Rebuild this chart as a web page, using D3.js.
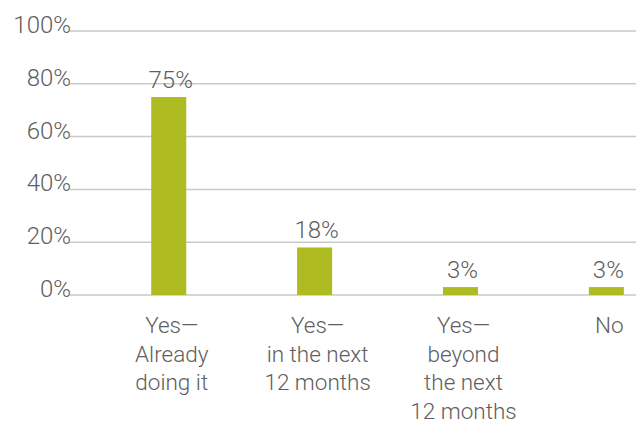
<!DOCTYPE html>
<html>
<head>
<meta charset="utf-8">
<script src="https://cdn.jsdelivr.net/npm/d3@7"></script>
<style>
  html, body { margin: 0; padding: 0; background: #fff; }
  svg { display: block; }
  text { font-family: "Helvetica Neue", Roboto, "Liberation Sans", Arial, sans-serif; font-weight: 300; fill: #5e5e5e; }
</style>
</head>
<body>
<svg id="chart" width="636" height="424"></svg>
<script>
// Survey responses: share of respondents per answer
const categories = [
  ["Yes\u2014", "Already", "doing it"],
  ["Yes\u2014", "in the next", "12 months"],
  ["Yes\u2014", "beyond", "the next", "12 months"],
  ["No"]
];
const values = [75, 18, 3, 3];
const yTicks = [0, 20, 40, 60, 80, 100];
const valueLabels = ["75%", "18%", "3%", "3%"];

const svg = d3.select("#chart");
const plot = { left: 70, right: 636, top: 31, bottom: 295 };

const x = d3.scaleBand()
  .domain(d3.range(values.length))
  .range([plot.left, plot.right])
  .paddingInner(0.76)
  .paddingOuter(0.32)
  .align(0.87);

const y = d3.scaleLinear().domain([0, 100]).range([plot.bottom, plot.top]);

// gridlines and percentage labels
const grid = svg.append("g");
grid.selectAll("line")
  .data(yTicks)
  .join("line")
  .attr("x1", plot.left)
  .attr("x2", plot.right)
  .attr("y1", d => y(d))
  .attr("y2", d => y(d))
  .attr("stroke", "#c9c9c9")
  .attr("stroke-width", 1.5);

grid.selectAll("text")
  .data(yTicks)
  .join("text")
  .attr("x", plot.left + 1)
  .attr("y", d => y(d) + 2)
  .attr("text-anchor", "end")
  .attr("font-size", 24)
  .text(d => d + "%");

// bars
svg.append("g").selectAll("rect")
  .data(values)
  .join("rect")
  .attr("x", (d, i) => x(i))
  .attr("width", x.bandwidth())
  .attr("y", d => y(d))
  .attr("height", d => y(0) - y(d))
  .attr("fill", "#aebb21");

// value labels above bars
svg.append("g").selectAll("text")
  .data(values)
  .join("text")
  .attr("x", (d, i) => x(i) + x.bandwidth() / 2 + 2)
  .attr("y", d => y(d) - 9)
  .attr("text-anchor", "middle")
  .attr("font-size", 24)
  .text((d, i) => valueLabels[i]);

// category labels, one line per tspan
const cat = svg.append("g").selectAll("text")
  .data(categories)
  .join("text")
  .attr("text-anchor", "middle")
  .attr("font-size", 22.5)
  .attr("transform", (d, i) => `translate(${x(i) + x.bandwidth() / 2 + 3},333)`);

cat.selectAll("tspan")
  .data(d => d)
  .join("tspan")
  .attr("x", 0)
  .attr("y", (d, j) => j * 28.6)
  .text(d => d);
</script>
</body>
</html>
